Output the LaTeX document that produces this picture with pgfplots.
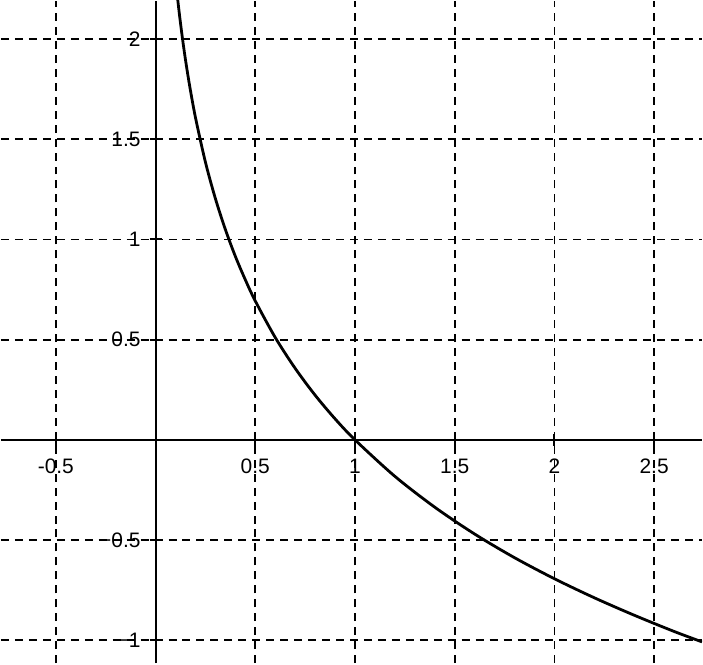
\documentclass[border=0pt]{standalone}
\usepackage{fontspec}
\setmainfont{Liberation Sans}
\usepackage{pgfplots}
\pgfplotsset{compat=1.18}
\begin{document}
\begin{tikzpicture}
\begin{axis}[
  scale only axis,
  width=351.5pt, height=332pt,
  axis lines=middle,
  axis line style={-, line width=1pt, black},
  xmin=-0.775, xmax=2.74,
  ymin=-1.114, ymax=2.19,
  xtick={-0.5,0,0.5,1,1.5,2,2.5},
  ytick={-1,-0.5,0,0.5,1,1.5,2},
  xticklabels={-0.5,,0.5,1,1.5,2,2.5},
  yticklabels={−1,−0.5,,0.5,1,1.5,2},
  /pgf/number format/assume math mode=true,
  ticklabel style={font=\fontsize{10.5}{12}\selectfont},
  xticklabel style={yshift=-3pt},
  yticklabel style={xshift=-1pt},
  major tick length=6pt,
  tick style={line width=1pt, black},
  grid=major,
  major grid style={black, line width=0.9pt, dash pattern=on 4pt off 3pt},
  clip=true,
]
\addplot[black, line width=1.4pt, smooth] coordinates {
(0.111,2.198) (0.115,2.163) (0.12,2.120) (0.13,2.040) (0.14,1.966) (0.15,1.897)
(0.17,1.772) (0.2,1.609) (0.25,1.386) (0.3,1.204) (0.35,1.050) (0.4,0.916)
(0.45,0.799) (0.5,0.693) (0.6,0.511) (0.7,0.357) (0.8,0.223) (0.9,0.105)
(1.0,0) (1.2,-0.182) (1.4,-0.336) (1.6,-0.470) (1.8,-0.588) (2.0,-0.693)
(2.2,-0.788) (2.4,-0.875) (2.6,-0.956) (2.74,-1.008)
};
\end{axis}
\end{tikzpicture}
\end{document}
